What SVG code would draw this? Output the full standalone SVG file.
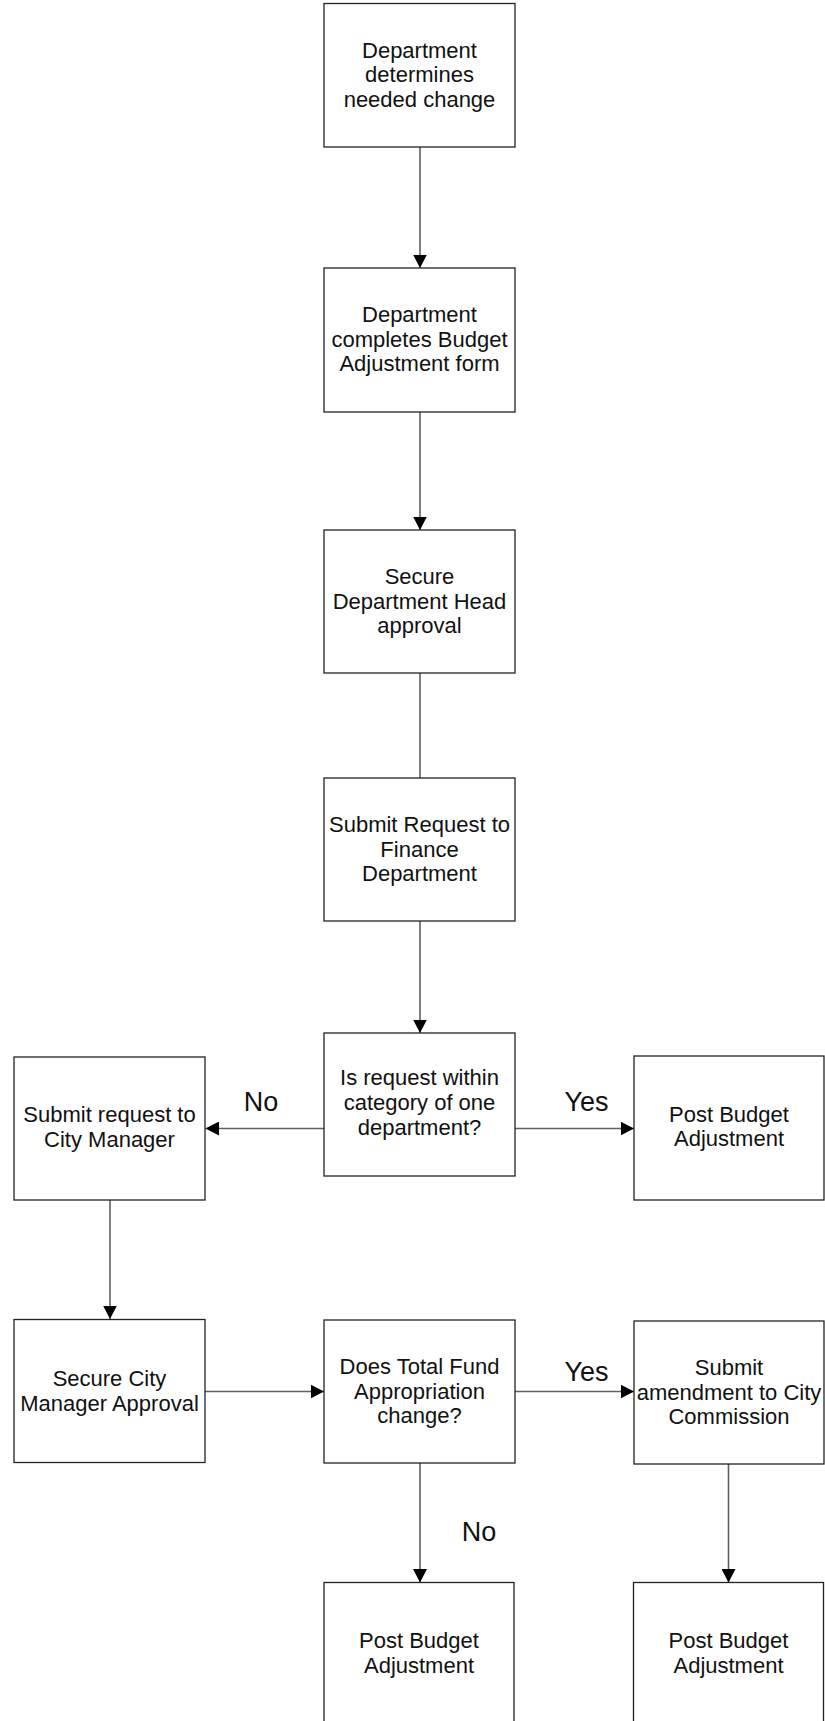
<svg xmlns="http://www.w3.org/2000/svg" width="825" height="1721" viewBox="0 0 825 1721">
  <style>
    .box { fill: #ffffff; stroke: #222222; stroke-width: 1.3; }
    .lbl { font-family: "Liberation Sans", Arial, sans-serif; font-size: 22px; fill: #111111; text-anchor: middle; }
    .yn { font-family: "Liberation Sans", Arial, sans-serif; font-size: 27px; fill: #111111; text-anchor: middle; }
    .conn { fill: none; stroke: #606060; stroke-width: 1.6; }
  </style>
  <defs>
    <marker id="arrow" markerUnits="userSpaceOnUse" markerWidth="14" markerHeight="14" refX="13.5" refY="7" orient="auto">
      <path d="M0,0 L13.5,7 L0,14 Z" fill="#000000"/>
    </marker>
  </defs>
  <rect width="825" height="1721" fill="#ffffff"/>

  <!-- connectors -->
  <g id="connectors">
    <line class="conn" x1="420" y1="147" x2="420" y2="268" marker-end="url(#arrow)"/>
    <line class="conn" x1="420" y1="412" x2="420" y2="530" marker-end="url(#arrow)"/>
    <line class="conn" x1="420" y1="673" x2="420" y2="778"/>
    <line class="conn" x1="420" y1="921" x2="420" y2="1033" marker-end="url(#arrow)"/>
    <line class="conn" x1="324" y1="1128.5" x2="205.5" y2="1128.5" marker-end="url(#arrow)"/>
    <line class="conn" x1="515" y1="1128.5" x2="634" y2="1128.5" marker-end="url(#arrow)"/>
    <line class="conn" x1="110" y1="1200" x2="110" y2="1319" marker-end="url(#arrow)"/>
    <line class="conn" x1="205" y1="1391.5" x2="324" y2="1391.5" marker-end="url(#arrow)"/>
    <line class="conn" x1="515" y1="1391.5" x2="634" y2="1391.5" marker-end="url(#arrow)"/>
    <line class="conn" x1="420" y1="1463" x2="420" y2="1582.5" marker-end="url(#arrow)"/>
    <line class="conn" x1="728.5" y1="1464" x2="728.5" y2="1582.5" marker-end="url(#arrow)"/>
    <text class="yn" x="261" y="1111">No</text>
    <text class="yn" x="586.5" y="1111">Yes</text>
    <text class="yn" x="586.5" y="1381">Yes</text>
    <text class="yn" x="479" y="1541">No</text>
  </g>

  <g id="n-determine">
    <rect class="box" x="324" y="3.5" width="191" height="143.5"/>
    <text class="lbl" x="419.5" y="57.5">Department</text>
    <text class="lbl" x="419.5" y="82">determines</text>
    <text class="lbl" x="419.5" y="106.5">needed change</text>
  </g>

  <g id="n-form">
    <rect class="box" x="324" y="268" width="191" height="144"/>
    <text class="lbl" x="419.5" y="322">Department</text>
    <text class="lbl" x="419.5" y="346.5">completes Budget</text>
    <text class="lbl" x="419.5" y="371">Adjustment form</text>
  </g>

  <g id="n-head">
    <rect class="box" x="324" y="530" width="191" height="143"/>
    <text class="lbl" x="419.5" y="584">Secure</text>
    <text class="lbl" x="419.5" y="608.5">Department Head</text>
    <text class="lbl" x="419.5" y="633">approval</text>
  </g>

  <g id="n-finance">
    <rect class="box" x="324" y="778" width="191" height="143"/>
    <text class="lbl" x="419.5" y="832">Submit Request to</text>
    <text class="lbl" x="419.5" y="856.5">Finance</text>
    <text class="lbl" x="419.5" y="881">Department</text>
  </g>

  <g id="n-category">
    <rect class="box" x="324" y="1033" width="191" height="143"/>
    <text class="lbl" x="419.5" y="1085">Is request within</text>
    <text class="lbl" x="419.5" y="1110">category of one</text>
    <text class="lbl" x="419.5" y="1135">department?</text>
  </g>

  <g id="n-city-manager">
    <rect class="box" x="14" y="1057" width="191" height="143"/>
    <text class="lbl" x="109.5" y="1122">Submit request to</text>
    <text class="lbl" x="109.5" y="1146.5">City Manager</text>
  </g>

  <g id="n-post-1">
    <rect class="box" x="634" y="1056" width="190" height="144"/>
    <text class="lbl" x="729" y="1121.5">Post Budget</text>
    <text class="lbl" x="729" y="1146">Adjustment</text>
  </g>

  <g id="n-manager-approval">
    <rect class="box" x="14" y="1319.5" width="191" height="143"/>
    <text class="lbl" x="109.5" y="1386">Secure City</text>
    <text class="lbl" x="109.5" y="1410.5">Manager Approval</text>
  </g>

  <g id="n-fund-change">
    <rect class="box" x="324" y="1320" width="191" height="143"/>
    <text class="lbl" x="419.5" y="1374">Does Total Fund</text>
    <text class="lbl" x="419.5" y="1398.5">Appropriation</text>
    <text class="lbl" x="419.5" y="1423">change?</text>
  </g>

  <g id="n-commission">
    <rect class="box" x="634" y="1321" width="190" height="143"/>
    <text class="lbl" x="729" y="1375">Submit</text>
    <text class="lbl" x="729" y="1399.5">amendment to City</text>
    <text class="lbl" x="729" y="1424">Commission</text>
  </g>

  <g id="n-post-2">
    <rect class="box" x="324" y="1582.5" width="190" height="150"/>
    <text class="lbl" x="419" y="1648">Post Budget</text>
    <text class="lbl" x="419" y="1672.5">Adjustment</text>
  </g>

  <g id="n-post-3">
    <rect class="box" x="633.5" y="1582.5" width="190" height="150"/>
    <text class="lbl" x="728.5" y="1648">Post Budget</text>
    <text class="lbl" x="728.5" y="1672.5">Adjustment</text>
  </g>
</svg>
